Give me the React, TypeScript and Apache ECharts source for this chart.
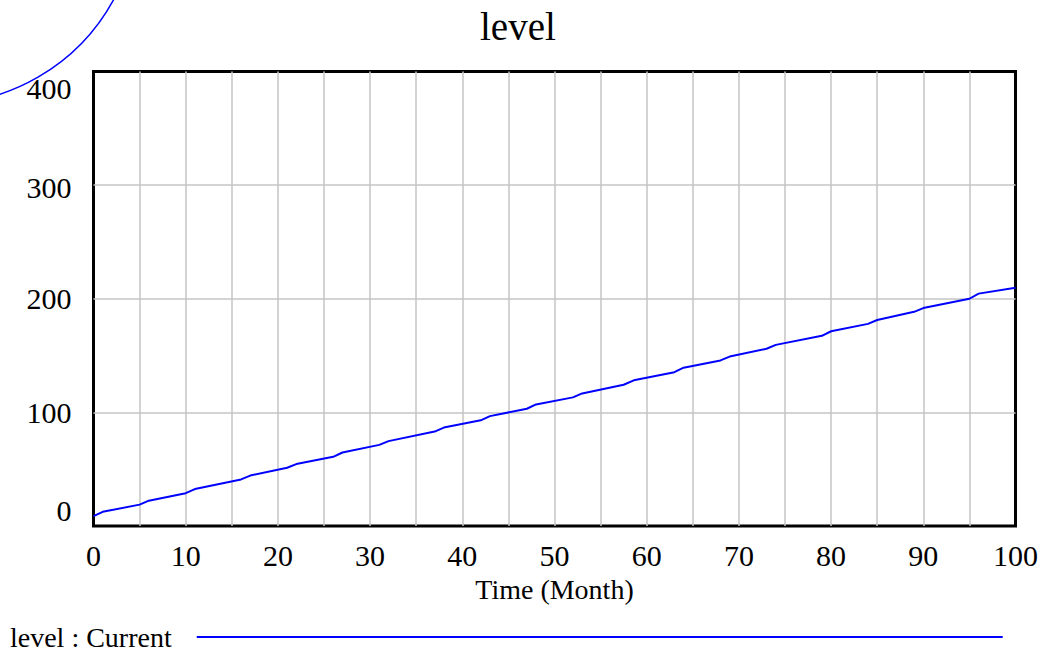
import React, { useEffect, useRef } from "react";
import * as echarts from "echarts";

const titleText = "level";
const seriesName = "level : Current";
const xAxisName = "Time (Month)";
// breakpoints of the plotted curve (time in months, value)
const times = [0, 1, 5, 6, 10, 11, 16, 17, 21, 22, 26, 27, 31, 32, 37, 38, 42, 43, 47, 48, 52, 53, 57.5, 58.6, 63, 64, 68, 69, 73, 74, 79, 80, 84, 85, 89, 90, 95, 96, 100];
const levels = [8.7, 12.5, 18.8, 22.3, 28.9, 32.5, 41.0, 44.4, 51.3, 54.5, 60.9, 64.7, 71.4, 74.7, 83.1, 86.6, 93.0, 96.7, 103.2, 107.0, 113.2, 116.7, 124.3, 128.2, 135.4, 139.3, 145.7, 149.1, 156.0, 159.4, 167.4, 171.4, 177.9, 181.3, 188.5, 191.8, 200.0, 204.5, 209.7];
const yTicks = [0, 100, 200, 300, 400];
const xMin = 0;
const xMax = 100;
const xStep = 5;

const FONT = "'Liberation Serif', 'Times New Roman', serif";
const GRID_GRAY = "#c4c4c4";

export default function App() {
  const ref = useRef<HTMLDivElement>(null);

  useEffect(() => {
    if (!ref.current) return;
    const chart = echarts.init(ref.current, undefined, { renderer: "svg" });

    const xLineCount = Math.round((xMax - xMin) / xStep) + 1;
    const xSplitColors = Array.from({ length: xLineCount }, (_, i) =>
      i === 0 || i === xLineCount - 1 ? "rgba(0,0,0,0)" : GRID_GRAY
    );
    const ySplitColors = yTicks.map((_, i) =>
      i === 0 || i === yTicks.length - 1 ? "rgba(0,0,0,0)" : GRID_GRAY
    );

    const labelRich = {
      t: { fontFamily: FONT, fontSize: 30, color: "#000", padding: [33, 0, 0, 0] },
      b: { fontFamily: FONT, fontSize: 30, color: "#000", padding: [0, 0, 32, 0] },
      m: { fontFamily: FONT, fontSize: 30, color: "#000", padding: [5, 0, 0, 0] },
      n: { fontFamily: FONT, fontSize: 30, color: "#000" },
    };

    chart.setOption({
      animation: false,
      backgroundColor: "#fff",
      title: {
        text: titleText,
        left: 480,
        top: 7,
        padding: 0,
        textStyle: { fontFamily: FONT, fontSize: 39, fontWeight: "normal", color: "#000" },
      },
      legend: {
        left: 10,
        top: 623,
        padding: 0,
        align: "right",
        icon: "rect",
        itemWidth: 806,
        itemHeight: 2,
        textStyle: { fontFamily: FONT, fontSize: 28, color: "#000", padding: [0, 20, 0, 0] },
        data: [seriesName],
      },
      grid: {
        left: 93.5,
        right: 40.5,
        top: 71.5,
        bottom: 127,
        show: true,
        borderColor: "#000",
        borderWidth: 3,
        backgroundColor: "#fff",
      },
      graphic: [
        {
          type: "circle",
          shape: { cx: -62, cy: -96, r: 200 },
          style: { fill: "none", stroke: "#0000ff", lineWidth: 1.5 },
          z: 10,
        },
      ],
      xAxis: {
        type: "value",
        min: xMin,
        max: xMax,
        interval: xStep,
        name: xAxisName,
        nameLocation: "middle",
        nameGap: 49,
        nameTextStyle: { fontFamily: FONT, fontSize: 28, color: "#000" },
        axisLine: { show: false },
        axisTick: { show: false },
        axisLabel: {
          margin: 14,
          fontFamily: FONT,
          fontSize: 30,
          color: "#000",
          formatter: (v: number) => (v % 10 === 0 ? String(v) : ""),
        },
        splitLine: { show: true, lineStyle: { color: xSplitColors, width: 1.5 } },
      },
      yAxis: {
        type: "value",
        min: yTicks[0],
        max: yTicks[yTicks.length - 1],
        interval: 100,
        axisLine: { show: false },
        axisTick: { show: false },
        axisLabel: {
          margin: 22,
          fontFamily: FONT,
          fontSize: 30,
          color: "#000",
          rich: labelRich,
          formatter: (v: number) => {
            if (v === yTicks[yTicks.length - 1]) return "{t|" + v + "}";
            if (v === yTicks[0]) return "{b|" + v + "}";
            if (v === 300) return "{m|" + v + "}";
            return "{n|" + v + "}";
          },
        },
        splitLine: { show: true, lineStyle: { color: ySplitColors, width: 1.5 } },
      },
      series: [
        {
          name: seriesName,
          type: "line",
          showSymbol: false,
          symbol: "none",
          color: "#0000ff",
          lineStyle: { color: "#0000ff", width: 2 },
          data: times.map((t, i) => [t, levels[i]]),
        },
      ],
    });

    return () => chart.dispose();
  }, []);

  return (
    <div
      ref={ref}
      style={{ position: "absolute", left: 0, top: 0, width: 1056, height: 653 }}
    />
  );
}
